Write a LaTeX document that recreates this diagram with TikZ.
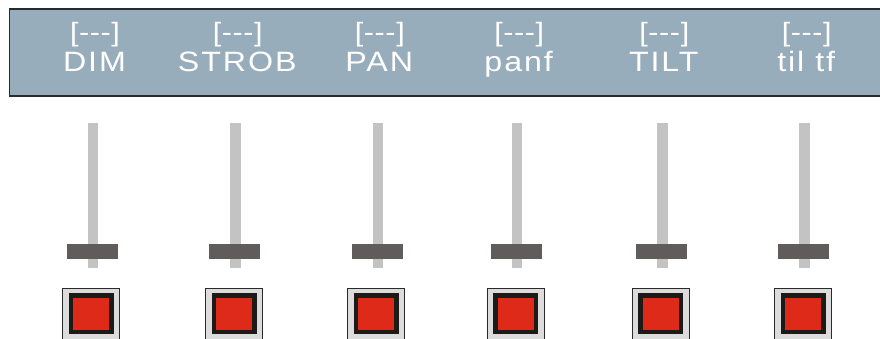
\documentclass[tikz,border=0pt]{standalone}
\usepackage{fontspec}
\setmainfont{Liberation Sans}
\newfontfamily\lblfont[LetterSpace=6]{Liberation Sans}
\newfontfamily\brkfont[LetterSpace=2]{Liberation Sans}
\definecolor{hdrfill}{HTML}{97ADBC}
\definecolor{hdrline}{HTML}{2A2A2A}
\definecolor{trackc}{HTML}{C3C3C3}
\definecolor{knobc}{HTML}{605C5C}
\definecolor{btnouter}{HTML}{DCDCDC}
\definecolor{btnframe}{HTML}{1E1A18}
\definecolor{btnred}{HTML}{DE2A19}
\newcommand{\wide}[1]{\scalebox{1.15}[1]{#1}}
\tikzset{
  lbl/.style={text=white,inner sep=0pt,anchor=base,font=\lblfont\fontsize{28}{30}\selectfont},
  brk/.style={text=white,inner sep=0pt,anchor=base,font=\brkfont\fontsize{26.5}{30}\selectfont},
  track/.style={fill=trackc,draw=none,inner sep=0pt,minimum width=10.5pt,minimum height=145.5pt,anchor=north},
  knob/.style={fill=knobc,draw=none,inner sep=0pt,minimum width=51pt,minimum height=15.7pt,anchor=north},
  btnout/.style={fill=btnouter,draw=hdrline,line width=1pt,inner sep=0pt,minimum width=57pt,minimum height=57pt,anchor=north},
  btnfr/.style={fill=btnframe,draw=none,inner sep=0pt,minimum width=45pt,minimum height=41.3pt,anchor=north},
  btnred/.style={fill=btnred,draw=none,inner sep=0pt,minimum width=36pt,minimum height=32.7pt,anchor=north}
}
\begin{document}
\begin{tikzpicture}[x=1pt,y=-1pt]
\useasboundingbox (0,0) rectangle (880,338);
\node[fill=hdrfill,draw=hdrline,line width=1.6pt,inner sep=0pt,anchor=north west,minimum width=880pt,minimum height=87pt] (hdr) at (8.5,8) {};
\foreach \i/\name/\x in {1/DIM/93,2/STROB/235.7,3/PAN/377.8,4/panf/517.2,5/TILT/662.3,6/til tf/804.7}{
  \node[brk] (b\i) at (\x+2,41.5) {\wide{[---]}};
  \node[lbl] (l\i) at (\x+1.5,71) {\wide{\name}};
  \node[track] (t\i) at (\x,122.3) {};
  \node[knob] (k\i) at (\x-0.8,243.3) {};
  \node[btnout] (o\i) at (\x-1.7,287.5) {};
  \node[btnfr] (f\i) at (\x-1.7,292.7) {};
  \node[btnred] (r\i) at (\x-1.7,297.3) {};
}
\end{tikzpicture}
\end{document}
